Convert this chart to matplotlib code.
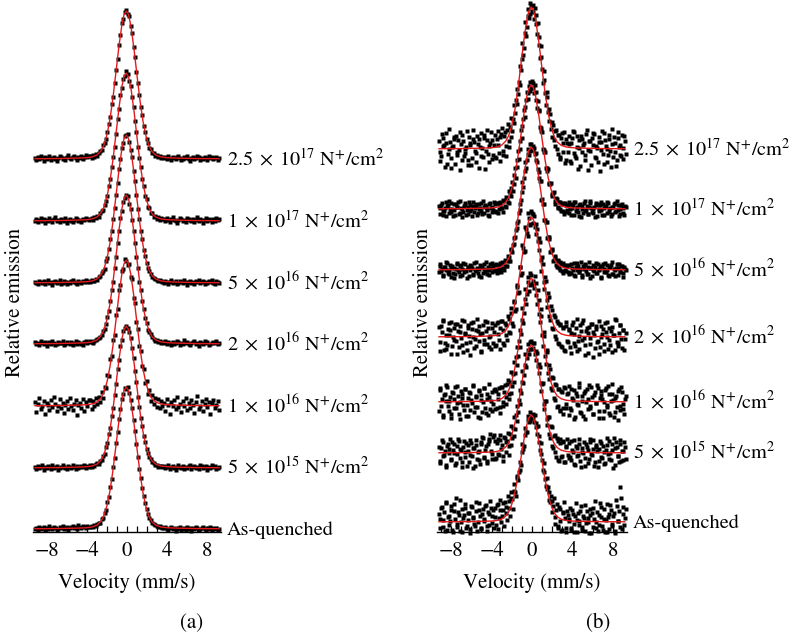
import numpy as np
import matplotlib
matplotlib.use("Agg")
import matplotlib.pyplot as plt
from matplotlib.ticker import MultipleLocator

plt.rcParams['font.family'] = 'STIXGeneral'
plt.rcParams['mathtext.fontset'] = 'stix'

# ---------------- data (relative emission, arbitrary units) ----------------
# channel velocities (mm/s); panel (b) shows both halves of the unfolded spectrum,
# the second half sits half a channel further on
VEL_MIN, VEL_MAX, N_CHANNELS = -9.2, 9.2, 128
HALF_CHANNEL = 0.072

DOSE_LABELS = [r'$2.5\;\times\;10^{17}\ \mathrm{N}^{+}/\mathrm{cm}^{2}$',
               r'$1\;\times\;10^{17}\ \mathrm{N}^{+}/\mathrm{cm}^{2}$',
               r'$5\;\times\;10^{16}\ \mathrm{N}^{+}/\mathrm{cm}^{2}$',
               r'$2\;\times\;10^{16}\ \mathrm{N}^{+}/\mathrm{cm}^{2}$',
               r'$1\;\times\;10^{16}\ \mathrm{N}^{+}/\mathrm{cm}^{2}$',
               r'$5\;\times\;10^{15}\ \mathrm{N}^{+}/\mathrm{cm}^{2}$',
               'As-quenched']

# stacking offsets of each spectrum
OFFSETS_A = [373, 311, 249, 188, 126, 64, 3]
OFFSETS_B = [383, 323, 262, 195, 130, 79, 10]

FIT_VEL = [-9.2, -7, -5, -4, -3.5, -3, -2.6, -2.3, -2.0, -1.7, -1.4, -1.1, -0.8,
           -0.5, -0.3, -0.07, 0.15, 0.4, 0.7, 1.0, 1.3, 1.6, 1.9, 2.2, 2.5, 2.9,
           3.4, 4, 5, 7, 9.2]
FIT_SHAPE = [0.002, 0.003, 0.006, 0.009, 0.014, 0.027, 0.055, 0.095, 0.165, 0.27,
             0.415, 0.59, 0.765, 0.912, 0.974, 1.0, 0.976, 0.895, 0.744, 0.565,
             0.395, 0.255, 0.155, 0.088, 0.05, 0.026, 0.014, 0.009, 0.006, 0.003,
             0.002]
FIT_HEIGHT_A = [148, 148, 148, 149, 146, 142, 142]
FIT_HEIGHT_B = [142, 124, 123, 120, 124, 108, 107]

# measured spectra, panel (a)
A_25E17 = [1,-1,2,0,3,1,-2,2,0,1,3,-1,1,2,0,-2,1,3,2,0,1,-1,2,4,1,0,2,3,1,-1,2,1,3,0,2,4,2,3,
           3,1,4,2,5,3,6,8,9,14,16,20,27,35,42,55,62,76,89,100,114,124,136,140,147,149,
           145,143,133,126,112,102,87,76,64,52,44,33,27,20,16,11,10,6,6,3,4,2,3,1,2,
           1,2,0,3,1,-1,2,1,0,2,3,1,-1,0,2,1,3,0,-2,1,2,0,1,3,2,-1,1,0,2,1,-1,3,1,2,0,1,2,-1,1]
A_1E17 = [0,2,-1,1,3,0,2,-2,1,0,3,1,-1,2,4,0,1,-1,2,1,0,3,-2,1,2,0,-1,1,3,2,0,1,-1,2,1,3,2,1,
          2,3,1,4,3,5,4,8,10,11,16,20,25,35,42,54,64,74,87,102,112,126,133,142,145,150,
          147,140,135,124,114,100,89,74,63,54,42,35,25,22,14,13,8,8,4,5,2,4,1,3,2,
          2,0,3,1,-1,2,4,1,0,-2,1,3,2,0,1,-1,3,2,1,0,2,-1,1,4,0,2,1,-2,1,3,0,2,1,-1,2,0,3,1,2]
A_5E16 = [1,0,-1,2,1,0,2,-1,1,3,0,1,-2,1,2,0,1,3,-1,0,2,1,-1,1,0,2,3,1,0,-1,2,1,0,2,1,3,1,2,
          1,3,2,2,4,3,6,7,10,12,14,22,25,34,44,52,64,75,88,100,114,124,135,140,147,148,
          149,141,133,126,112,102,88,74,64,52,44,33,27,20,15,12,9,6,5,4,3,2,3,2,1,
          0,2,1,-1,1,3,0,1,2,-1,0,2,1,0,3,1,-2,1,2,0,1,-1,2,1,3,0,1,2,-1,1,0,2,1,3,0,-1,2,1,0]
A_2E16 = [2,0,1,-1,3,1,0,2,-2,1,2,0,3,1,-1,0,2,1,1,3,-1,0,2,1,0,2,-1,1,3,0,2,1,0,-1,2,3,1,2,
          3,2,1,3,4,5,6,7,9,13,15,20,27,33,43,54,62,76,87,101,113,126,133,142,146,149,
          148,140,135,124,113,101,87,76,62,54,43,35,26,21,14,12,10,7,5,3,4,2,3,1,2,
          1,3,0,2,1,-1,2,0,1,3,2,-1,1,0,4,1,2,0,-1,1,2,3,0,1,-2,2,1,0,3,1,2,-1,0,1,2,1,3,0,1]
A_1E16 = [4,-6,2,8,-3,0,5,-8,3,1,-4,6,-1,9,2,-5,0,7,-2,3,-7,1,5,-3,8,0,-4,2,6,-9,1,3,-2,7,-5,4,0,6,
          6,-3,5,0,8,2,9,4,14,8,19,18,31,30,47,50,66,71,91,97,116,121,135,137,147,145,
          141,142,129,127,108,103,84,77,60,55,40,37,23,25,12,16,5,11,2,8,-1,7,-2,5,0,
          3,-5,7,1,-8,4,0,6,-3,9,-1,2,-6,5,0,8,-4,3,-2,6,1,-7,4,10,-3,0,5,-5,2,7,-1,4,-8,3,6,-2,1,5,-4]
A_5E15 = [1,-1,2,0,1,3,-2,1,0,2,1,-1,3,0,1,2,-2,0,1,3,1,0,-1,2,1,0,3,1,-1,2,0,1,2,1,3,0,2,1,
          3,1,3,2,4,5,4,7,8,12,14,21,25,34,40,52,60,73,84,99,108,122,128,137,140,142,
          140,136,130,120,110,97,86,71,61,50,42,32,26,19,15,11,9,6,5,3,3,1,2,2,1,
          2,0,1,3,-1,1,2,0,-2,1,3,1,0,2,-1,1,0,2,3,-1,1,2,0,1,-1,3,2,0,1,2,-2,1,0,3,1,2,-1,0,1]
A_QUENCHED = [0,1,-1,2,0,1,2,-1,1,0,3,1,0,2,1,-1,0,2,1,3,0,1,2,-1,1,2,3,1,2,0,4,2,1,3,2,1,3,2,
              2,3,2,4,3,5,6,6,10,11,16,19,27,32,42,50,62,71,86,97,110,120,130,135,141,140,
              142,136,129,121,109,98,85,72,60,51,41,33,26,20,15,11,9,6,5,4,3,2,3,2,1,
              1,2,0,-1,1,2,0,1,-2,0,1,2,-1,0,1,-1,2,0,1,-2,1,0,2,1,-1,0,1,2,0,-1,1,0,2,-1,1,0,1,-1,0]

# measured spectra, panel (b), first half
B_25E17 = [8,-12,15,3,-18,6,-5,20,-9,2,12,-15,-3,9,-21,5,14,-7,0,18,-11,4,-16,10,7,-4,13,-19,2,16,-8,11,-2,19,-13,6,9,-6,
           14,-9,18,-4,12,21,-6,17,3,25,8,31,18,44,36,60,55,83,79,106,101,127,122,140,135,143,
           144,130,134,115,112,91,92,66,69,44,52,28,35,12,24,3,19,-5,14,-10,16,6,-14,10,-3,
           5,-14,11,17,-7,2,-20,9,13,-3,6,-11,19,-1,8,-16,4,15,-9,1,12,-22,7,-5,16,3,-13,10,-2,20,-8,6,-17,11,2,-6,14,-10,8]
B_1E17 = [3,-5,6,-2,1,-7,4,8,-3,0,5,-6,2,7,-4,1,-8,3,6,-1,-5,4,0,7,-3,2,-6,5,1,-2,8,-4,3,0,-7,6,2,-1,
          5,-3,6,0,7,1,9,3,12,7,18,13,27,25,41,42,58,60,79,83,99,102,117,116,127,121,
          126,116,117,101,98,82,78,60,57,41,38,26,25,15,16,8,11,2,7,0,5,-2,6,-3,4,
          -4,5,1,-6,7,2,-3,4,-8,0,6,-2,3,-5,8,1,-4,2,6,-7,0,4,-1,5,-6,3,7,-3,1,-5,2,6,-2,4,-7,0,5,-4,3]
B_5E16 = [-2,6,1,-5,3,8,-3,0,-7,4,2,-4,7,0,-6,5,1,-2,6,-8,3,0,4,-5,7,-1,2,-6,5,3,-3,1,8,-4,0,6,-2,4,
          0,6,-2,5,1,8,2,10,4,14,9,21,18,32,33,47,49,66,70,88,92,108,110,121,119,126,
          120,122,110,108,92,89,70,66,50,48,32,33,18,21,9,14,5,10,2,8,-1,7,0,5,-2,
          5,-3,2,7,-6,0,4,-2,8,-5,1,6,-4,3,-8,2,5,-1,7,-3,0,4,-7,6,1,-2,5,-6,3,8,-4,0,2,-5,6,-1,4,-3,1]
B_2E16 = [10,-14,5,17,-6,-12,8,2,15,-9,-3,13,-17,6,11,-1,-8,16,4,-13,9,-5,14,0,-11,7,18,-4,3,-15,12,-7,6,15,-10,1,9,-6,
          12,-8,15,-3,9,16,-6,14,2,21,5,29,14,36,26,52,44,70,62,92,85,110,104,124,113,126,
          114,121,103,108,87,95,66,73,48,56,30,40,17,27,8,20,-2,14,-7,12,-10,9,-14,11,-5,
          7,-16,12,3,-9,18,-4,-12,6,14,-1,-18,9,4,-7,13,-20,2,11,-5,16,-10,0,8,-14,5,15,-3,-8,10,2,-13,17,-6,4,12,-11,7,-2]
B_1E16 = [-9,14,3,-15,8,17,-4,1,-12,10,-6,15,-1,6,-17,11,4,-8,13,-3,-14,9,2,16,-10,5,-5,12,-16,7,0,14,-11,3,18,-7,10,-2,
          -7,11,3,14,-5,15,0,17,5,22,8,30,16,40,29,55,46,72,68,94,89,113,108,125,117,127,
          121,114,119,98,102,80,86,56,66,38,50,23,33,12,24,2,17,-4,13,-8,10,-12,14,-6,9,
          16,-8,4,12,-15,6,-3,19,-11,1,9,-17,13,3,-6,15,-12,7,-1,17,-9,4,11,-16,0,14,-5,8,-13,18,2,-10,6,-18,13,-4,10,-7,3]
B_5E15 = [6,-10,13,-3,2,-14,9,4,-7,11,0,-12,7,14,-5,3,-9,12,1,-13,8,-2,10,-15,5,13,-6,2,-11,9,15,-4,7,-8,12,19,-1,16,
          12,-5,14,-2,18,8,-3,15,11,20,7,27,15,36,24,47,41,63,60,82,78,99,95,109,104,112,
          105,110,93,100,80,86,62,70,44,52,28,36,15,26,5,18,-4,12,-8,14,-3,11,-9,7,-2,
          10,-7,3,13,-12,5,-2,9,-14,1,11,-5,6,-10,14,-1,4,-13,8,2,-8,12,-4,7,-11,3,15,-6,0,9,-15,5,11,-3,-9,13,2,-7,6]
B_QUENCHED = [8,-6,15,2,-9,20,5,-3,12,-8,18,3,-5,10,22,0,-10,7,14,-4,9,-7,16,4,-2,11,-9,19,6,-6,13,1,17,-4,8,21,-1,12,
              14,-3,18,4,22,6,12,20,9,26,14,30,23,38,30,46,42,60,57,78,76,94,90,106,101,104,
              108,100,99,88,86,72,68,52,50,36,33,22,20,10,16,-2,12,-6,15,1,-8,10,4,-10,7,
              3,-8,12,-2,6,-10,9,1,16,-5,4,-9,11,0,7,-11,14,3,-6,10,-3,19,5,-8,13,2,-10,8,17,-4,6,-9,22,1,11,35,-7,15,4]

# measured spectra, panel (b), second half
B2_25E17 = [-3,-7,11,4,16,-15,0,7,-19,3,10,13,-6,-1,17,-11,8,-4,2,-16,12,6,-9,19,-2,-13,5,10,-7,1,14,-20,9,-5,3,17,-10,4,
            -8,10,4,-12,15,-2,13,-7,19,2,22,12,30,26,49,45,67,64,90,94,116,113,133,131,146,138,
            137,141,125,126,104,103,80,78,56,57,37,40,20,27,9,18,0,14,-8,11,-3,17,-11,6,13,
            -12,6,18,-4,-9,13,1,-17,10,4,-6,15,-21,8,-2,11,16,-8,3,-13,7,-1,18,-15,9,0,-6,14,-18,5,12,-3,-11,17,4,-7,1,13,-5]
B2_1E17 = [1,4,-6,-2,7,3,-4,0,6,-7,-1,5,2,-5,8,0,-3,4,-6,2,7,-2,-7,3,1,5,-4,0,6,-5,2,4,-1,-6,5,1,-3,7,
           -2,6,-4,5,1,-3,8,2,11,6,16,21,18,34,31,49,50,68,71,90,92,109,110,123,118,128,
           121,124,109,108,99,81,77,59,57,41,40,25,26,13,17,5,10,1,7,-2,6,-5,4,-1,7,
           0,-6,4,7,-2,1,-7,5,3,-4,8,-1,-5,2,6,-3,0,-8,4,5,-2,7,-6,1,3,-4,6,0,-7,2,5,-3,8,-1,-5,4,1,-6,2]
B2_5E16 = [4,-1,-6,3,0,7,-4,5,2,-3,-8,1,6,-2,4,-5,7,0,-1,3,-6,5,2,-4,0,8,-3,1,-7,4,6,-2,0,3,-5,2,7,-1,
           5,-3,1,7,-2,6,0,9,4,13,9,20,25,26,40,42,57,60,78,83,99,102,116,115,126,120,
           124,116,117,101,98,89,71,66,50,48,33,31,19,20,10,12,3,9,0,6,-3,5,-1,4,-4,
           -3,6,0,-5,3,7,-2,1,-7,4,5,-1,-4,8,2,-6,0,3,-3,6,1,-8,4,-2,7,0,-5,3,5,-4,1,-6,6,2,-2,4,-7,3,0]
B2_2E16 = [-5,11,16,-13,2,-8,14,7,-17,0,9,-4,13,-10,5,17,-15,3,-6,12,1,-18,8,15,-2,-9,6,11,-14,4,-3,16,-7,9,0,-12,14,5,
           -9,14,3,-12,16,7,-8,12,-3,18,4,24,11,35,28,50,45,70,64,89,86,108,101,119,112,124,
           123,110,113,96,99,77,80,55,60,37,44,21,31,9,22,1,16,-6,13,-9,10,-13,15,-4,8,
           -10,4,15,-6,9,-14,1,12,-3,17,-8,6,-16,10,-1,13,5,-11,8,-4,-17,11,3,-7,14,0,-12,9,6,-15,2,18,-5,-9,12,-2,7,-13,4]
B2_1E16 = [12,-4,-13,7,1,15,-9,5,-16,9,3,-6,16,-12,0,8,-3,13,-14,4,10,-8,-1,17,-5,6,-15,11,2,-10,14,-6,8,-13,5,1,-9,12,
           13,-6,8,-11,15,-4,10,-2,18,3,20,9,28,20,45,37,61,55,82,79,103,98,120,111,129,118,
           118,126,107,112,88,93,67,70,46,52,29,37,14,25,4,18,-5,13,-9,11,-6,15,-2,8,-13,
           -6,13,2,-17,9,-2,15,-10,6,-14,11,0,-7,17,-4,5,-12,10,-1,14,-16,7,3,-9,12,-3,16,-11,1,8,-15,4,-5,11,-8,15,-2,-12,6]
B2_5E15 = [-8,5,11,-2,-12,7,0,14,-6,3,9,-10,-1,12,4,-14,6,-4,10,2,-9,13,-3,5,-13,8,1,-7,11,16,-5,3,-10,9,14,2,-6,18,
           -6,10,-1,13,4,-8,16,1,12,-2,19,8,25,17,38,32,53,49,71,70,88,86,103,99,111,104,
           110,99,102,87,89,70,69,49,52,34,36,19,27,7,17,1,15,-7,10,-4,12,-9,6,14,-5,
           -4,12,1,-11,7,-3,14,-8,5,0,-13,9,3,-6,11,-2,13,-9,6,-14,4,10,-5,1,-10,8,-1,12,-7,3,15,-12,6,-3,9,-8,2,11,-6]
B2_QUENCHED = [3,14,-5,10,19,-8,6,1,16,-10,11,24,-2,7,-9,13,4,18,-6,2,9,-11,15,5,-4,20,0,12,-7,8,3,16,-9,10,-3,14,6,-6,
               5,17,-7,12,0,19,-4,15,2,21,6,24,13,31,26,44,50,52,70,73,87,90,102,100,110,106,
               104,107,95,96,80,79,62,59,43,44,35,30,26,21,24,5,18,-4,13,-9,9,20,-6,11,1,
               14,-6,8,-10,19,2,-3,11,-8,6,17,-1,4,-11,13,9,-5,21,0,-9,7,15,-4,3,-10,18,5,-7,12,-2,9,-11,16,1,-5,24,8,-3,13]

SPECTRA_A = [[A_25E17], [A_1E17], [A_5E16], [A_2E16], [A_1E16], [A_5E15], [A_QUENCHED]]
SPECTRA_B = [[B_25E17, B2_25E17], [B_1E17, B2_1E17], [B_5E16, B2_5E16],
             [B_2E16, B2_2E16], [B_1E16, B2_1E16], [B_5E15, B2_5E15],
             [B_QUENCHED, B2_QUENCHED]]

# ---------------- figure ----------------
W, H = 793, 637
fig = plt.figure(figsize=(W / 100, H / 100), dpi=100)

FS = 15
FS_LAB = 14.6
RED = '#e3191c'


def draw_panel(left_px, px_per_unit, spectra, offsets, heights, caption, cap_x,
               ylab_x, ms):
    xlo, xhi = -9.4, 9.4
    width_px = (xhi - xlo) * px_per_unit
    ax = fig.add_axes([left_px / W, (H - 532) / H, width_px / W, 532 / H])
    vel = np.linspace(VEL_MIN, VEL_MAX, N_CHANNELS)
    for halves, off, h, lab in zip(spectra, offsets, heights, DOSE_LABELS):
        for n, counts in enumerate(halves):
            assert len(counts) == N_CHANNELS
            ax.plot(vel + n * HALF_CHANNEL, np.array(counts) + off, ls='none',
                    marker='s', ms=ms, mec='none', mfc='black', clip_on=False,
                    zorder=2)
        ax.plot(FIT_VEL, np.array(FIT_SHAPE) * h + off, color=RED, lw=1.0,
                clip_on=False, zorder=3)
        ax.text(10.0, off - 6, lab, ha='left', va='baseline', fontsize=FS_LAB,
                clip_on=False)
    ax.set_xlim(xlo, xhi)
    ax.set_ylim(0, 532)
    for s in ['top', 'left', 'right']:
        ax.spines[s].set_visible(False)
    ax.spines['bottom'].set_linewidth(1.0)
    ax.set_yticks([])
    ax.xaxis.set_major_locator(MultipleLocator(4))
    ax.xaxis.set_minor_locator(MultipleLocator(1))
    ax.tick_params(axis='x', which='both', direction='in', length=4, width=0.9,
                   labelsize=FS, pad=7)
    ax.set_xlabel('Velocity (mm/s)', fontsize=FS, labelpad=8)
    ax.patch.set_visible(False)
    fig.text(ylab_x / W, 1 - 302 / H, 'Relative emission', rotation=90,
             ha='center', va='center', fontsize=FS)
    fig.text(cap_x / W, 1 - 623 / H, caption, ha='center', va='center', fontsize=FS)
    return ax


draw_panel(33, 10.0, SPECTRA_A, OFFSETS_A, FIT_HEIGHT_A, '(a)', 192, 15, 2.9)
draw_panel(437, 10.1, SPECTRA_B, OFFSETS_B, FIT_HEIGHT_B, '(b)', 598, 423, 2.3)

fig.savefig('out.png', dpi=100)
